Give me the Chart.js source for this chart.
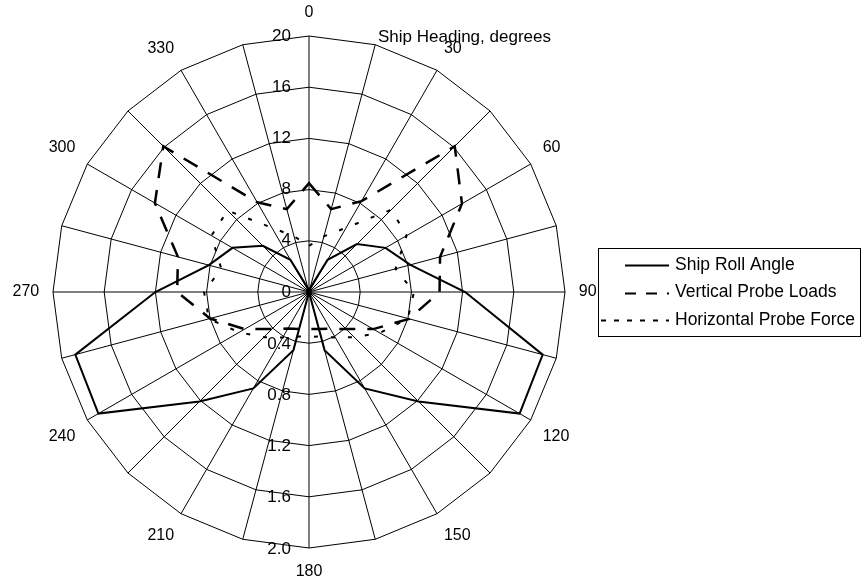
<!DOCTYPE html>
<html>
<head>
<meta charset="utf-8">
<script src="https://cdn.jsdelivr.net/npm/chart.js@4.4.0/dist/chart.umd.min.js"></script>
<style>
  html, body { margin: 0; padding: 0; background: #fff; }
</style>
</head>
<body>
<canvas id="chart" width="865" height="584"></canvas>
<script>
// ship heading, one spoke every 15 degrees, labelled every 30
var headings = ['0', '', '30', '', '60', '', '90', '', '120', '', '150', '',
                '180', '', '210', '', '240', '', '270', '', '300', '', '330', ''];

// roll angle in degrees, read on the lower 0 - 2.0 scale
var rollAngle = [0, 0.03, 0.29, 0.53, 0.69, 0.82, 1.22, 1.89, 1.90, 1.21, 0.87, 0.47,
                 0, 0.47, 0.87, 1.21, 1.90, 1.89, 1.20, 0.81, 0.69, 0.51, 0.29, 0.03];
// probe loads, read on the upper 0 - 20 scale
var verticalLoads = [8.5, 6.7, 8.2, 16.1, 13.8, 10.6, 10.2, 8.1, 5.8, 4.1, 3.3, 3.0,
                     2.9, 3.0, 3.3, 4.1, 5.8, 8.0, 10.3, 10.6, 13.9, 16.1, 8.1, 6.7];
var horizontalForce = [3.6, 4.5, 5.8, 9.1, 8.8, 7.0, 8.2, 8.0, 6.4, 5.0, 4.1, 3.6,
                       3.5, 3.6, 4.1, 5.0, 6.3, 8.1, 8.2, 7.1, 8.8, 9.0, 5.8, 4.5];

var loadTicks = [0, 4, 8, 12, 16, 20];
var rollTicks = ['0.4', '0.8', '1.2', '1.6', '2.0'];
var loadMax = 20;
var rollMax = 2.0;

var FONT_FAMILY = '"Liberation Sans", Arial, sans-serif';

// roll angle shares the radial axis, so scale it onto the 0-20 range
var rollOnAxis = rollAngle.map(function (v) { return v * loadMax / rollMax; });

var legendStyle = [
    {dash: [], from: 625, width: 2},
    {dash: [11, 10], from: 625, width: 2},
    {dash: [5, 8], from: 601, width: 2}
];

var extras = {
    id: 'extras',
    beforeDraw: function (chart) {
        var ctx = chart.ctx;
        var r = chart.scales.r;
        ctx.save();
        ctx.fillStyle = '#fff';
        ctx.fillRect(0, 0, chart.width, chart.height);
        ctx.fillStyle = '#000';
        ctx.font = '17px ' + FONT_FAMILY;
        ctx.textAlign = 'right';
        ctx.textBaseline = 'middle';
        loadTicks.forEach(function (v) {
            ctx.fillText(String(v), r.xCenter - 18, r.yCenter - r.getDistanceFromCenterForValue(v));
        });
        rollTicks.forEach(function (t) {
            var v = parseFloat(t) * loadMax / rollMax;
            ctx.fillText(t, r.xCenter - 18, r.yCenter + r.getDistanceFromCenterForValue(v) + 1);
        });
        ctx.textAlign = 'left';
        ctx.fillText('Ship Heading, degrees', r.xCenter + 69, r.yCenter - r.drawingArea + 1);
        ctx.restore();
    },
    afterDraw: function (chart) {
        var ctx = chart.ctx;
        ctx.save();
        ctx.strokeStyle = '#000';
        ctx.lineWidth = 1;
        ctx.strokeRect(598.5, 248.5, 262, 88);
        ctx.font = '17.5px ' + FONT_FAMILY;
        ctx.fillStyle = '#000';
        ctx.textAlign = 'left';
        ctx.textBaseline = 'middle';
        chart.data.datasets.forEach(function (ds, i) {
            var y = 265 + i * 27.5;
            var st = legendStyle[i];
            ctx.beginPath();
            ctx.setLineDash(st.dash);
            ctx.lineWidth = st.width;
            ctx.moveTo(st.from, Math.round(y) + 0.5);
            ctx.lineTo(669, Math.round(y) + 0.5);
            ctx.stroke();
            ctx.setLineDash([]);
            ctx.fillText(ds.label, 675, y);
        });
        ctx.restore();
    }
};

new Chart(document.getElementById('chart').getContext('2d'), {
    type: 'radar',
    data: {
        labels: headings,
        datasets: [
            {
                label: 'Ship Roll Angle',
                data: rollOnAxis,
                borderColor: '#000',
                borderWidth: 2,
                fill: false,
                pointRadius: 0
            },
            {
                label: 'Vertical Probe Loads',
                data: verticalLoads,
                borderColor: '#000',
                borderWidth: 2.5,
                borderDash: [16, 12],
                fill: false,
                pointRadius: 0
            },
            {
                label: 'Horizontal Probe Force',
                data: horizontalForce,
                borderColor: '#000',
                borderWidth: 2,
                borderDash: [4, 13],
                fill: false,
                pointRadius: 0
            }
        ]
    },
    options: {
        responsive: false,
        animation: false,
        layout: {padding: {left: 0, right: 255, top: 3, bottom: 3}},
        plugins: {
            legend: {display: false},
            tooltip: {enabled: false}
        },
        scales: {
            r: {
                min: 0,
                max: loadMax,
                ticks: {stepSize: 4, display: false},
                grid: {color: '#000', lineWidth: 1},
                angleLines: {color: '#000', lineWidth: 1},
                pointLabels: {
                    color: '#000',
                    padding: 13.8,
                    font: {family: FONT_FAMILY, size: 16}
                }
            }
        }
    },
    plugins: [extras]
});
</script>
</body>
</html>
